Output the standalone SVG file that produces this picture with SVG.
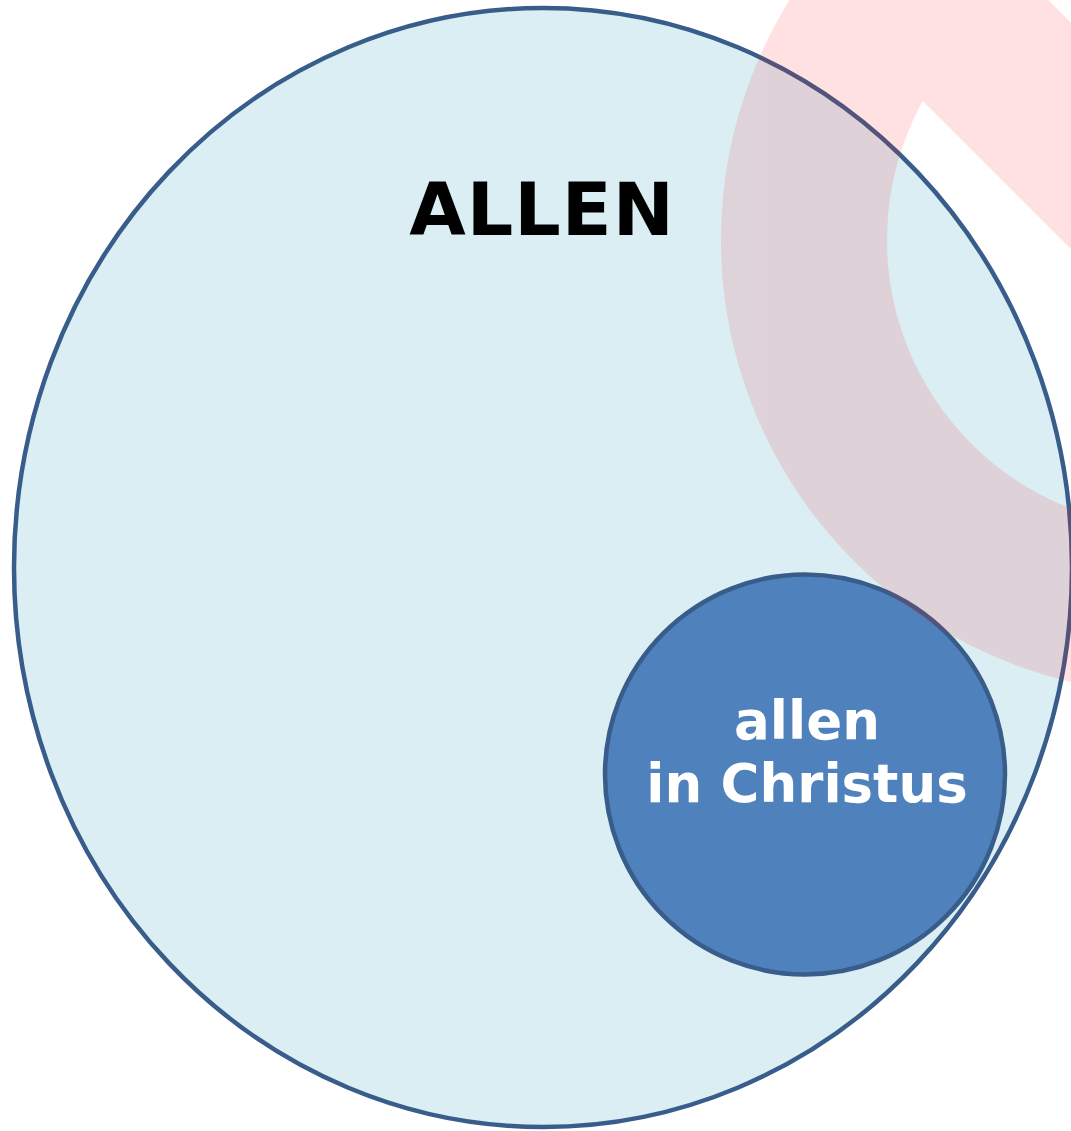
<svg xmlns="http://www.w3.org/2000/svg" width="1071" height="1131" viewBox="0 0 1071 1131">
  <style>
    .outline { stroke: #385d8a; stroke-width: 4.5; }
    .label { font-family: "DejaVu Sans", "Liberation Sans", sans-serif; font-weight: bold; text-anchor: middle; }
  </style>
  <rect width="1071" height="1131" fill="#ffffff"/>
  <g id="allen">
    <ellipse class="outline" cx="543" cy="567.5" rx="529" ry="559.5" fill="#daeef3"/>
    <text class="label" x="542" y="235" font-size="73" fill="#000000" letter-spacing="1">ALLEN</text>
  </g>
  <g id="allen-in-christus">
    <circle class="outline" cx="805" cy="774.5" r="200" fill="#4f81bd"/>
    <text class="label" x="807" y="739" font-size="53" fill="#ffffff">allen</text>
    <text class="label" x="807" y="802" font-size="53" fill="#ffffff">in Christus</text>
  </g>
  <g id="no-sign" opacity="0.13">
    <circle cx="1175" cy="240" r="371" fill="none" stroke="#ff1e28" stroke-width="166"/>
    <rect x="804" y="160" width="742" height="160" fill="#ff1e28" transform="rotate(45 1175 240)"/>
  </g>
  <g id="connectors"/>
</svg>
